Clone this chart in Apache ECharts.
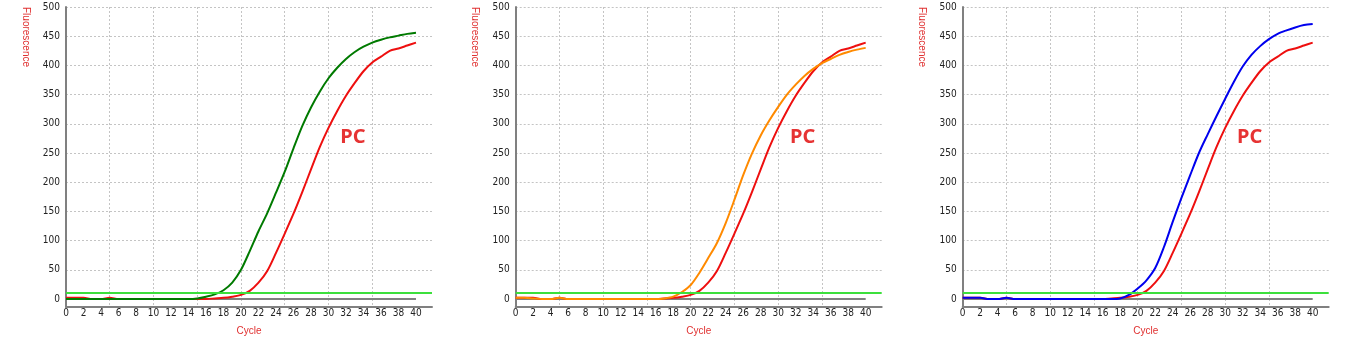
<!DOCTYPE html>
<html>
<head>
<meta charset="utf-8">
<title>PC amplification curves</title>
<script src="https://cdn.jsdelivr.net/npm/echarts@6/dist/echarts.min.js"></script>
<style>
  html, body { margin: 0; padding: 0; background: #fff; }
  #chart { width: 1350px; height: 355px; }
</style>
</head>
<body>
<div id="chart"></div>
<script>
// cycle numbers 0..40
const cycles = [0,1,2,3,4,5,6,7,8,9,10,11,12,13,14,15,16,17,18,19,20,
  21,22,23,24,25,26,27,28,29,30,31,32,33,34,35,36,37,38,39,40];

// PC reference curve (red), same in all three panels
const pcCurve = [2,2,2,0,0,2,0,0,0,0,0,0,0,0,0,0,0,1,2,4,7,
  14,28,48,79,112,146,183,222,260,293,322,348,370,390,405,415,425,429,434,439];
// panel 1 sample (green)
const greenCurve = [0,0,0,0,0,0,0,0,0,0,0,0,0,0,0,1,4,8,15,28,50,
  82,116,147,182,218,258,296,328,355,378,396,411,423,432,439,444,448,451,454,456];
// panel 2 sample (orange)
const orangeCurve = [2,2,1,0,0,2,0,0,0,0,0,0,0,0,0,0,0,1,4,12,24,
  45,70,96,130,170,212,249,280,306,329,350,367,382,394,404,411,418,423,427,430];
// panel 3 sample (blue)
const blueCurve = [2,2,2,0,0,2,0,0,0,0,0,0,0,0,0,0,0,0,1,7,18,
  32,53,89,132,173,212,250,282,313,343,372,398,418,433,445,454,460,465,469,471];

const threshold = 10;
const baseline = [[0, 0], [40, 0]];
const yTicks = [0,50,100,150,200,250,300,350,400,450,500];
const xLabels = [0,2,4,6,8,10,12,14,16,18,20,22,24,26,28,30,32,34,36,38,40];
const xGridTicks = [5,10,15,20,25,30,35,40];
const pcLabelAt = [32.8, 277];

const samples = [
  { data: greenCurve, color: "#007a00" },
  { data: orangeCurve, color: "#ff8a00" },
  { data: blueCurve, color: "#0000ee" },
];
const lefts = [66, 515.7, 962.7];

const narrow = "'Liberation Sans Narrow', 'DejaVu Sans Condensed', 'Liberation Sans', sans-serif";
const red = "#e00000";
const axisGray = "#808080";
const gridStyle = { color: "#c4c4c4", width: 1, type: [2, 2] };

let chart = echarts.init(document.getElementById("chart"));

let grids = [], xAxes = [], yAxes = [], series = [], graphics = [];

samples.forEach((s, i) => {
  grids.push({ left: lefts[i], top: 7, width: 366, height: 299.7 });

  xAxes.push({
    gridIndex: i,
    type: "value",
    min: 0,
    max: 41.83,
    name: "Cycle",
    nameLocation: "middle",
    nameGap: 20,
    nameTextStyle: { color: "#e03030", fontSize: 10, fontFamily: "'Liberation Sans', sans-serif" },
    axisLine: { onZero: false, lineStyle: { color: axisGray, width: 2 } },
    axisTick: { show: false, customValues: xGridTicks },
    axisLabel: { customValues: xLabels, margin: 2, fontSize: 10, color: "#222", fontFamily: narrow },
    splitLine: { show: true, showMaxLine: false, lineStyle: gridStyle },
  });

  yAxes.push({
    gridIndex: i,
    type: "value",
    min: -13.2,
    max: 500,
    axisLine: { show: true, onZero: false, lineStyle: { color: axisGray, width: 2 } },
    axisTick: { show: false, customValues: yTicks },
    axisLabel: { customValues: yTicks, margin: 6, fontSize: 10, color: "#222", fontFamily: narrow },
    splitLine: { show: true, showMinLine: false, lineStyle: gridStyle },
  });

  // gray baseline + threshold
  series.push({
    type: "line",
    xAxisIndex: i,
    yAxisIndex: i,
    data: baseline,
    symbol: "none",
    silent: true,
    lineStyle: { color: axisGray, width: 2 },
    markLine: {
      silent: true,
      symbol: "none",
      label: { show: false },
      lineStyle: { color: "#3ce03c", width: 2, type: "solid" },
      data: [{ yAxis: threshold }],
    },
  });

  series.push({
    type: "line",
    xAxisIndex: i,
    yAxisIndex: i,
    data: cycles.map((c, k) => [c, pcCurve[k]]),
    symbol: "none",
    smooth: 0.3,
    lineStyle: { color: "#ee0f0f", width: 2 },
  });

  series.push({
    type: "line",
    xAxisIndex: i,
    yAxisIndex: i,
    data: cycles.map((c, k) => [c, s.data[k]]),
    symbol: "none",
    smooth: 0.3,
    lineStyle: { color: s.color, width: 2 },
  });

  // "PC" label
  series.push({
    type: "scatter",
    xAxisIndex: i,
    yAxisIndex: i,
    data: [pcLabelAt],
    symbolSize: 0,
    silent: true,
    label: {
      show: true,
      position: "inside",
      formatter: "PC",
      color: red,
      fontSize: 20,
      fontWeight: "bold",
      fontFamily: "'Noto Sans', sans-serif",
    },
  });

  graphics.push({
    type: "text",
    x: lefts[i] - 40.5,
    y: 7,
    rotation: -Math.PI / 2,
    style: {
      text: "Fluorescence",
      fill: "#e03030",
      font: "10px 'Liberation Sans', sans-serif",
      align: "left",
      verticalAlign: "middle",
    },
  });
});

chart.setOption({
  animation: false,
  grid: grids,
  xAxis: xAxes,
  yAxis: yAxes,
  series: series,
  graphic: graphics,
});
</script>
</body>
</html>
